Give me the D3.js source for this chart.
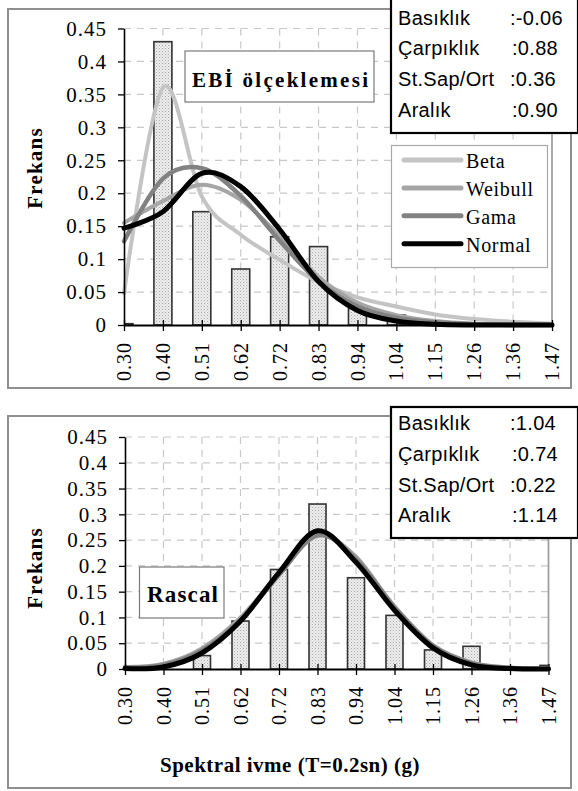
<!DOCTYPE html>
<html><head><meta charset="utf-8">
<script src="https://cdn.jsdelivr.net/npm/d3@7/dist/d3.min.js"></script>
<style>body{margin:0;background:#fff}svg{display:block}</style>
</head><body>
<svg id="c" width="578" height="791"></svg>
<script>
// ---------- DATA ----------
const categories = ["0.30","0.40","0.51","0.62","0.72","0.83","0.94","1.04","1.15","1.26","1.36","1.47"];
const yTicks = [0, 0.05, 0.1, 0.15, 0.2, 0.25, 0.3, 0.35, 0.4, 0.45];
const seriesNames = ["Beta", "Weibull", "Gama", "Normal"];

const ebiBars    = [0.002, 0.43, 0.172, 0.085, 0.134, 0.119, 0.025, 0.015, 0, 0, 0, 0];
const ebiBeta    = [0.048, 0.36, 0.195, 0.137, 0.099, 0.065, 0.042, 0.028, 0.016, 0.009, 0.005, 0.002];
const ebiWeibull = [0.155, 0.188, 0.213, 0.19, 0.135, 0.073, 0.034, 0.015, 0.006, 0.002, 0.001, 0];
const ebiGama    = [0.127, 0.222, 0.238, 0.196, 0.128, 0.066, 0.028, 0.011, 0.004, 0.001, 0, 0];
const ebiNormal  = [0.147, 0.172, 0.23, 0.21, 0.145, 0.066, 0.022, 0.006, 0.001, 0, 0, 0];

const rascalBars    = [0, 0, 0.026, 0.093, 0.193, 0.32, 0.177, 0.104, 0.037, 0.044, 0, 0.007];
const rascalBeta    = [0.003, 0.01, 0.04, 0.097, 0.182, 0.26, 0.216, 0.122, 0.047, 0.013, 0.003, 0.001];
const rascalWeibull = [0.004, 0.01, 0.04, 0.1, 0.184, 0.258, 0.218, 0.118, 0.04, 0.009, 0.002, 0];
const rascalGama    = [0.003, 0.008, 0.036, 0.095, 0.183, 0.26, 0.213, 0.12, 0.045, 0.012, 0.002, 0.0005];
const rascalNormal  = [0.001, 0.004, 0.031, 0.093, 0.187, 0.268, 0.207, 0.114, 0.041, 0.008, 0.001, 0];

const statLabels = ["Basıklık", "Çarpıklık", "St.Sap/Ort", "Aralık"];
const ebiStats = [":-0.06", ":0.88", ":0.36", ":0.90"];
const rascalStats = [":1.04", ":0.74", ":0.22", ":1.14"];

const yLabel = "Frekans";
const xLabel = "Spektral ivme (T=0.2sn) (g)";

// ---------- STYLE ----------
const serif = "'Liberation Serif','Times New Roman',serif";
const sans = "'Liberation Sans',Arial,sans-serif";
const seriesColor = {Beta: "#c4c4c4", Weibull: "#a6a6a6", Gama: "#828282", Normal: "#000000"};
const seriesWidth = {Beta: 4, Weibull: 4, Gama: 4.5, Normal: 5};

const svg = d3.select("#c");
const defs = svg.append("defs");
const pat = defs.append("pattern").attr("id", "dots").attr("width", 3).attr("height", 3)
  .attr("patternUnits", "userSpaceOnUse");
pat.append("rect").attr("width", 3).attr("height", 3).attr("fill", "#ededed");
pat.append("rect").attr("width", 1).attr("height", 1).attr("fill", "#a9a9a9");
pat.append("rect").attr("x", 1.5).attr("y", 1.5).attr("width", 1).attr("height", 1).attr("fill", "#c4c4c4");

function drawChart(cfg, idx) {
  const g = svg.append("g");
  const [fx0, fy0, fx1, fy1] = cfg.frame;
  g.append("rect").attr("x", fx0).attr("y", fy0).attr("width", fx1 - fx0).attr("height", fy1 - fy0)
    .attr("fill", "#fff").attr("stroke", "#8f8f8f").attr("stroke-width", 2);

  const x = d3.scalePoint().domain(categories).range([cfg.x0, cfg.x1]);
  const y = d3.scaleLinear().domain([0, 0.45]).range([cfg.yBase, cfg.yTop]);

  // grid
  const grid = g.append("g").attr("stroke", "#c8c8c8").attr("stroke-width", 1.2)
    .attr("stroke-dasharray", "7,6");
  grid.selectAll(".h").data(yTicks.filter(d => d > 0)).join("line")
    .attr("x1", cfg.x0).attr("x2", cfg.x1).attr("y1", d => y(d)).attr("y2", d => y(d));
  grid.selectAll(".v").data(categories.slice(1, -1)).join("line")
    .attr("x1", d => x(d)).attr("x2", d => x(d)).attr("y1", y(0.45)).attr("y2", y(0));
  g.append("line").attr("x1", cfg.x1).attr("x2", cfg.x1).attr("y1", y(0.45)).attr("y2", y(0))
    .attr("stroke", "#a0a0a0").attr("stroke-width", 1.8);

  // clip
  const cid = "clip" + idx;
  defs.append("clipPath").attr("id", cid).append("rect")
    .attr("x", cfg.x0).attr("y", y(0.45) - 10).attr("width", cfg.x1 - cfg.x0).attr("height", y(0) - y(0.45) + 10);

  // bars
  const bw = cfg.barWidth;
  g.append("g").attr("clip-path", `url(#${cid})`).selectAll("rect")
    .data(categories.map((c, i) => ({c, v: cfg.bars[i]})).filter(d => d.v > 0)).join("rect")
    .attr("x", d => x(d.c) - bw / 2).attr("width", bw)
    .attr("y", d => y(d.v)).attr("height", d => y(0) - y(d.v))
    .attr("fill", "url(#dots)").attr("stroke", "#333").attr("stroke-width", 1.6);

  // curves
  const line = d3.line().x((d, i) => x(categories[i])).y(d => y(d)).curve(d3.curveCardinal.tension(0));
  seriesNames.forEach(name => {
    g.append("path").datum(cfg.series[name]).attr("d", line).attr("fill", "none")
      .attr("stroke", seriesColor[name]).attr("stroke-width", seriesWidth[name])
      .attr("stroke-linejoin", "round").attr("stroke-linecap", "round");
  });

  // y axis
  const ya = g.append("g").attr("transform", `translate(${cfg.x0},0)`)
    .call(d3.axisLeft(y).tickValues(yTicks).tickSizeOuter(0).tickSizeInner(6).tickPadding(11)
      .tickFormat(d => String(d)));
  ya.select(".domain").attr("stroke", "#000").attr("stroke-width", 1.6);
  ya.selectAll(".tick line").attr("stroke", "#000").attr("stroke-width", 1.3);
  ya.selectAll(".tick text").attr("font-family", serif).attr("font-size", 21)
    .attr("letter-spacing", "1px").attr("fill", "#000");

  // x axis
  const xa = g.append("g").attr("transform", `translate(0,${cfg.yBase})`)
    .call(d3.axisBottom(x).tickSizeOuter(0).tickSizeInner(6));
  xa.select(".domain").attr("stroke", "#000").attr("stroke-width", 1.8);
  xa.selectAll(".tick line").attr("y1", -5).attr("y2", 6).attr("stroke", "#000").attr("stroke-width", 1.3);
  xa.selectAll(".tick text").attr("font-family", serif).attr("font-size", 20).attr("fill", "#000")
    .attr("letter-spacing", "1px")
    .attr("transform", "rotate(-90)").attr("text-anchor", "end")
    .attr("x", -17).attr("y", 0).attr("dy", "0.33em");

  // y label
  g.append("text").attr("transform", `translate(${cfg.yLabelX},${cfg.yLabelY}) rotate(-90)`)
    .attr("text-anchor", "middle").attr("font-family", serif).attr("font-weight", "bold")
    .attr("font-size", 21).attr("letter-spacing", "1.2px").text(yLabel);

  // title box
  const [tx0, ty0, tx1, ty1] = cfg.titleBox;
  g.append("rect").attr("x", tx0).attr("y", ty0).attr("width", tx1 - tx0).attr("height", ty1 - ty0)
    .attr("fill", "#fff").attr("stroke", "#7a7a7a").attr("stroke-width", 1.2);
  g.append("text").attr("x", cfg.titleX).attr("y", cfg.titleY)
    .attr("font-family", serif).attr("font-weight", "bold").attr("font-size", cfg.titleSize)
    .attr("textLength", cfg.titleLen).attr("lengthAdjust", "spacing").text(cfg.title);

  // stats box
  const [sx0, sy0, sx1, sy1] = cfg.statsBox;
  g.append("rect").attr("x", sx0).attr("y", sy0).attr("width", sx1 - sx0).attr("height", sy1 - sy0)
    .attr("fill", "#fff").attr("stroke", "#000").attr("stroke-width", 2.2);
  statLabels.forEach((lab, i) => {
    g.append("text").attr("x", sx0 + 7).attr("y", cfg.statsRows[i]).attr("font-family", sans)
      .attr("font-size", 20).attr("letter-spacing", "0.3px").text(lab);
    g.append("text").attr("x", cfg.statsValX[i]).attr("y", cfg.statsRows[i]).attr("font-family", sans)
      .attr("font-size", 20).attr("letter-spacing", "0.3px").text(cfg.stats[i]);
  });

  return {x, y, g};
}

// top chart
const chartTop = drawChart({
  frame: [8, 9, 571, 388], x0: 124, x1: 552, yBase: 325, yTop: 28.5, barWidth: 18,
  bars: ebiBars,
  series: {Beta: ebiBeta, Weibull: ebiWeibull, Gama: ebiGama, Normal: ebiNormal},
  yLabelX: 42, yLabelY: 168,
  titleBox: [185, 51, 374, 102], title: "EBİ ölçeklemesi", titleX: 192, titleY: 87, titleSize: 21, titleLen: 176,
  statsBox: [391, -2, 578, 133], statsRows: [25, 55, 86, 117], statsValX: [510, 512, 510, 512], stats: ebiStats
}, 0);

// legend (top chart)
const lg = svg.append("g");
lg.append("rect").attr("x", 391.5).attr("y", 145.5).attr("width", 156).attr("height", 122)
  .attr("fill", "#fff").attr("stroke", "#a8a8a8").attr("stroke-width", 1.2);
seriesNames.forEach((name, i) => {
  const yy = 160 + i * 27.9;
  lg.append("line").attr("x1", 404).attr("x2", 461).attr("y1", yy).attr("y2", yy)
    .attr("stroke", seriesColor[name]).attr("stroke-width", 5).attr("stroke-linecap", "round");
  lg.append("text").attr("x", 466).attr("y", yy + 8).attr("font-family", serif).attr("font-size", 20)
    .attr("letter-spacing", "0.7px").text(name);
});

// bottom chart
const chartBottom = drawChart({
  frame: [8, 416, 571, 788], x0: 125, x1: 548.5, yBase: 669, yTop: 437, barWidth: 17,
  bars: rascalBars,
  series: {Beta: rascalBeta, Weibull: rascalWeibull, Gama: rascalGama, Normal: rascalNormal},
  yLabelX: 42, yLabelY: 568,
  titleBox: [139.5, 567, 224, 618], title: "Rascal", titleX: 147, titleY: 602, titleSize: 23, titleLen: 71,
  statsBox: [391, 407, 578, 538], statsRows: [430, 461, 492, 522], statsValX: [510, 512, 510, 512], stats: rascalStats
}, 1);

svg.append("text").attr("x", 290).attr("y", 772).attr("text-anchor", "middle")
  .attr("font-family", serif).attr("font-weight", "bold").attr("font-size", 21)
  .attr("letter-spacing", "0.5px").text(xLabel);
</script>
</body></html>
